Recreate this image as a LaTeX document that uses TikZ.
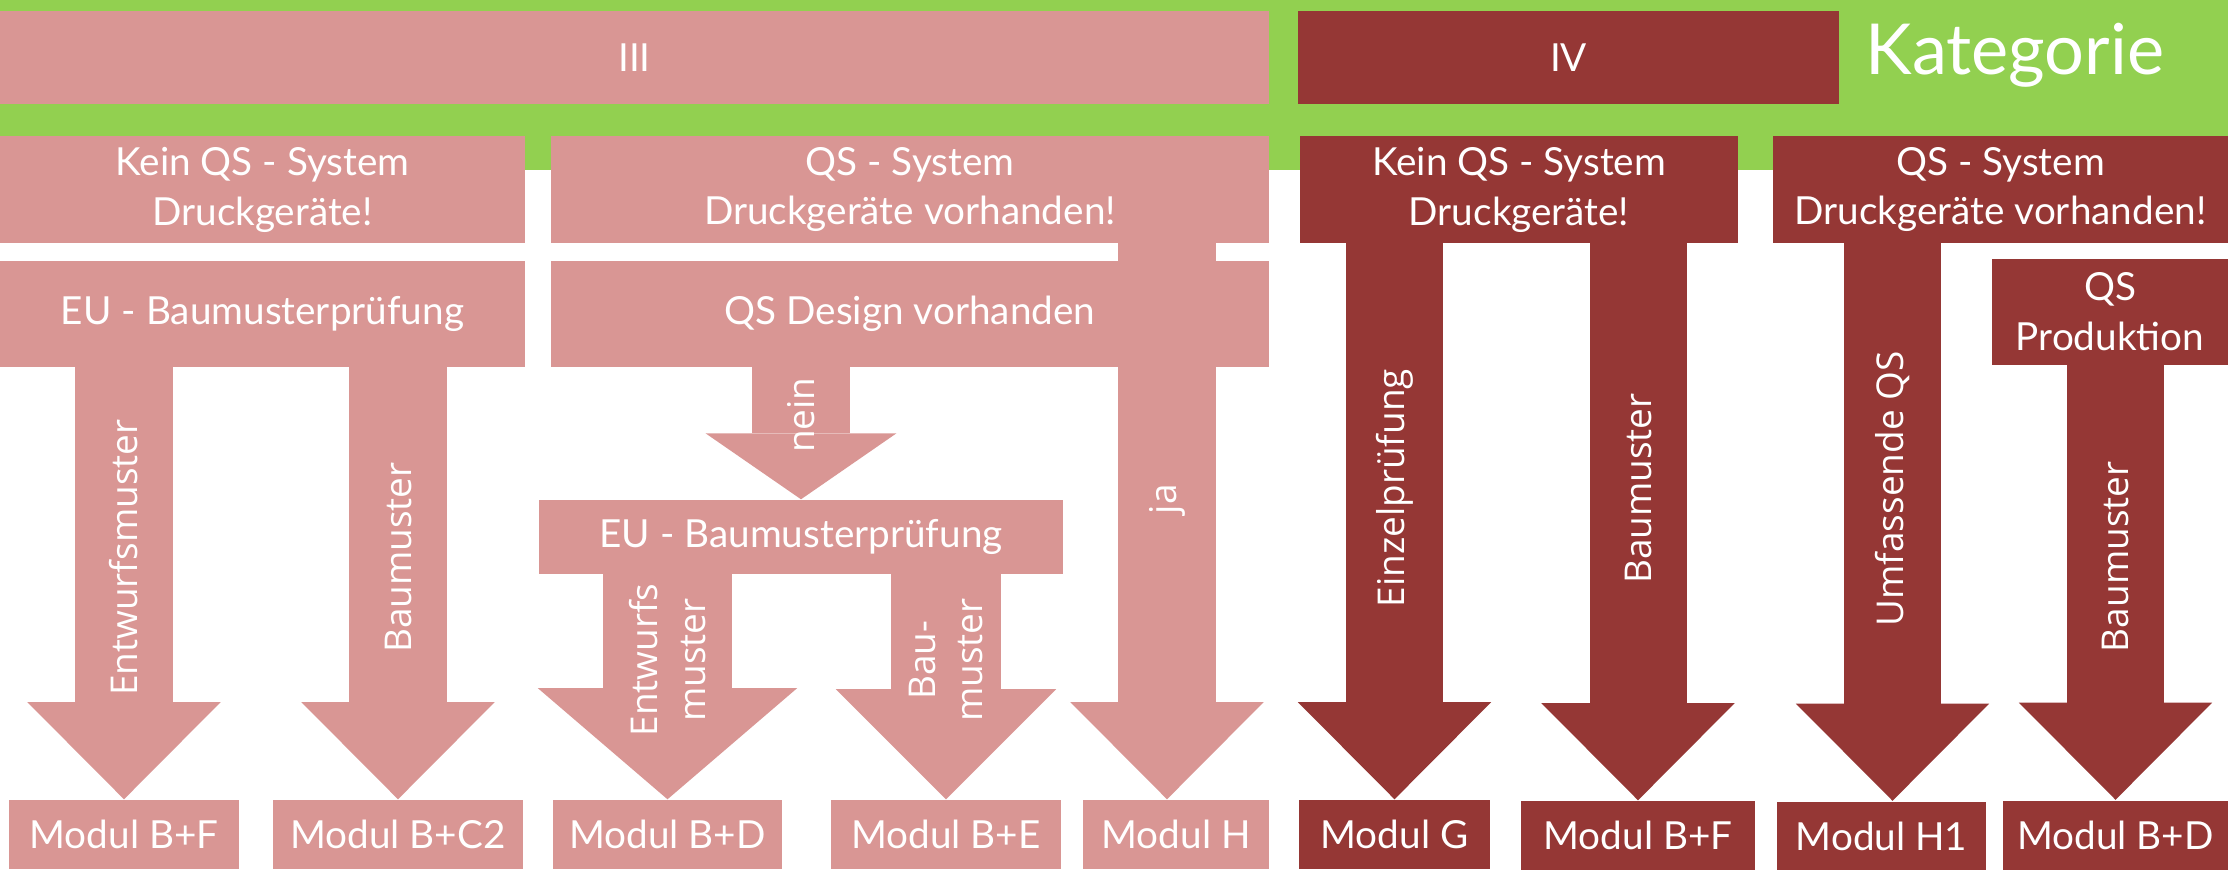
\documentclass[tikz,border=0pt]{standalone}
\usepackage{fontspec}
\setmainfont{Lato}
\newfontfamily\labelfont{Open Sans}
\usetikzlibrary{arrows.meta}
\definecolor{catpink}{HTML}{D99694}
\definecolor{catred}{HTML}{953735}
\definecolor{catgreen}{HTML}{92D050}
\begin{document}
\begin{tikzpicture}
 [
 x=0.01cm, y=-0.01cm,
 pinkbox/.style={rectangle, fill=catpink, text=white, inner sep=0pt, align=center, font=\fontsize{11}{14.2}\selectfont},
 redbox/.style={pinkbox, fill=catred},
 modbox/.style={minimum height=0.69cm},
 pinkarrow/.style={draw=catpink, line width=0.97cm, shorten <=-1pt, -{Triangle[width=1.93cm, length=0.97cm, line width=0pt]}},
 redarrow/.style={pinkarrow, draw=catred},
 arrowlabel/.style={text=white, rotate=90, pos=0.44, align=center, font=\labelfont\fontsize{10.5}{13.6}\selectfont}
 ]
 \useasboundingbox (0,0) rectangle (2228,869);
 \fill[catgreen] (0,0) rectangle (2228,170);
 % Kategorie
 \node at (634.5,57.5) [pinkbox, minimum width=12.69cm, minimum height=0.93cm] (cat3) {III};
 \node at (1568.5,57.5) [redbox, minimum width=5.41cm, minimum height=0.93cm] (cat4) {IV};
 \node at (2015,74) [anchor=base, text=white, font=\fontsize{20}{24}\selectfont] (cattitle) {Kategorie};
 % QS-System
 \node at (262.5,189.5) [pinkbox, minimum width=5.25cm, minimum height=1.07cm] (kein3) {Kein QS - System\\Druckgeräte!};
 \node at (910,189.5) [pinkbox, minimum width=7.18cm, minimum height=1.07cm] (qs3) {QS - System\\Druckgeräte vorhanden!};
 \node at (1519,189.5) [redbox, minimum width=4.38cm, minimum height=1.07cm] (kein4) {Kein QS - System\\Druckgeräte!};
 \node at (2000.5,189.5) [redbox, minimum width=4.55cm, minimum height=1.07cm] (qs4) {QS - System\\Druckgeräte vorhanden!};
 \node at (262.5,314) [pinkbox, minimum width=5.25cm, minimum height=1.06cm] (eu3) {EU - Baumusterprüfung};
 \node at (910,314) [pinkbox, minimum width=7.18cm, minimum height=1.06cm] (design) {QS Design vorhanden};
 \node at (2110,312) [redbox, minimum width=2.36cm, minimum height=1.06cm] (prod) {QS\\Produktion};
 \node at (801,537) [pinkbox, minimum width=5.24cm, minimum height=0.74cm] (eumid) {EU - Baumusterprüfung};
 % Module
 \node at (124,834.5) [pinkbox, modbox, minimum width=2.30cm] (mBF3) {Modul B+F};
 \node at (398,834.5) [pinkbox, modbox, minimum width=2.50cm] (mBC2) {Modul B+C2};
 \node at (667.5,834.5) [pinkbox, modbox, minimum width=2.29cm] (mBD3) {Modul B+D};
 \node at (946,834.5) [pinkbox, modbox, minimum width=2.30cm] (mBE) {Modul B+E};
 \node at (1176,834.5) [pinkbox, modbox, minimum width=1.86cm] (mH) {Modul H};
 \node at (1394.5,834.5) [redbox, modbox, minimum width=1.91cm] (mG) {Modul G};
 \node at (1638,835.5) [redbox, modbox, minimum width=2.34cm] (mBF4) {Modul B+F};
 \node at (1881.5,836) [redbox, modbox, minimum width=2.09cm] (mH1) {Modul H1};
 \node at (2115.5,835) [redbox, modbox, minimum width=2.25cm] (mBD4) {Modul B+D};
 \coordinate (jaend) at ([xshift=-0.09cm]mH.north);
 \coordinate (umfend) at ([xshift=0.11cm]mH1.north);
 % Pfeile III
 \draw[pinkarrow] (eu3.south -| mBF3.north) -- node[arrowlabel] {Entwurfsmuster} (mBF3.north);
 \draw[pinkarrow] (eu3.south -| mBC2.north) -- node[arrowlabel] {Baumuster} (mBC2.north);
 \draw[pinkarrow, -{Triangle[width=1.91cm, length=0.66cm, line width=0pt]}] (design.south -| eumid.north) -- node[arrowlabel, pos=0.36] {nein} (eumid.north);
 \draw[pinkarrow, line width=1.29cm, -{Triangle[width=2.59cm, length=1.11cm, line width=0pt]}] (eumid.south -| mBD3.north) -- node[arrowlabel, pos=0.38] {Entwurfs\\muster} (mBD3.north);
 \draw[pinkarrow, line width=1.10cm, -{Triangle[width=2.20cm, length=1.10cm, line width=0pt]}] (eumid.south -| mBE.north) -- node[arrowlabel, pos=0.38] {Bau-\\muster} (mBE.north);
 \draw[pinkarrow] (qs3.south -| jaend) -- node[arrowlabel, pos=0.46] {ja} (jaend);
 % Pfeile IV
 \draw[redarrow] (kein4.south -| mG.north) -- node[arrowlabel] {Einzelprüfung} (mG.north);
 \draw[redarrow] (kein4.south -| mBF4.north) -- node[arrowlabel] {Baumuster} (mBF4.north);
 \draw[redarrow] (qs4.south -| umfend) -- node[arrowlabel] {Umfassende QS} (umfend);
 \draw[redarrow] (prod.south -| mBD4.north) -- node[arrowlabel] {Baumuster} (mBD4.north);
\end{tikzpicture}
\end{document}
